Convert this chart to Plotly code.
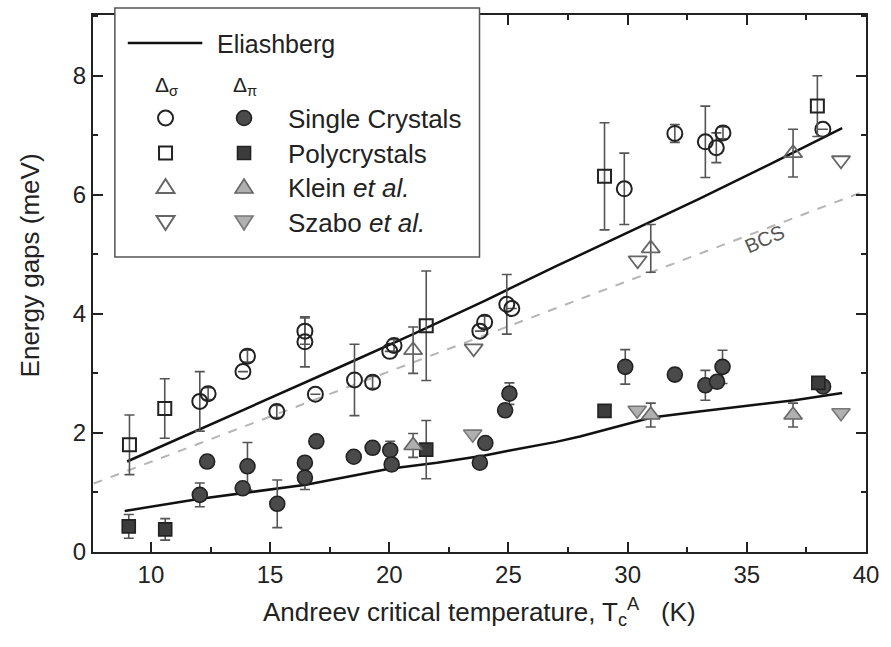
import plotly.graph_objects as go

# ---------------- data ----------------
# Single crystals, sigma gap (open circles)
sc_sig_T = [12.05, 12.4, 13.86, 14.05, 15.28, 16.46, 16.46, 16.9, 18.54, 19.3, 20.02, 20.2,
            23.8, 24.0, 24.93, 25.14, 29.86, 31.98, 33.26, 33.72, 34.0, 38.19]
sc_sig_D = [2.53, 2.66, 3.03, 3.29, 2.36, 3.71, 3.53, 2.65, 2.89, 2.85, 3.37, 3.47,
            3.71, 3.86, 4.16, 4.09, 6.10, 7.03, 6.89, 6.79, 7.04, 7.10]
sc_sig_E = [0.5, 0.1, None, 0.1, 0.1, 0.22, 0.42, None, 0.6, 0.1, None, 0.1,
            None, 0.1, 0.5, None, 0.6, 0.15, 0.6, 0.25, 0.1, None]

# Single crystals, pi gap (filled circles)
sc_pi_T = [12.05, 12.36, 13.85, 14.05, 15.3, 16.46, 16.46, 16.94, 18.51, 19.3, 20.04, 20.1,
           23.8, 24.03, 24.86, 25.04, 29.9, 31.98, 33.26, 33.75, 33.98, 38.2]
sc_pi_D = [0.96, 1.52, 1.07, 1.44, 0.81, 1.50, 1.25, 1.86, 1.60, 1.75, 1.71, 1.47,
           1.50, 1.83, 2.38, 2.66, 3.11, 2.98, 2.80, 2.86, 3.11, 2.78]
sc_pi_E = [0.2, 0.1, None, 0.4, 0.4, 0.1, 0.2, None, None, 0.1, 0.15, 0.1,
           None, None, 0.1, 0.18, 0.29, 0.1, 0.25, 0.1, 0.28, 0.1]

# Polycrystals
poly_sig_T = [9.1, 10.58, 21.55, 29.03, 37.96]
poly_sig_D = [1.80, 2.41, 3.80, 6.31, 7.49]
poly_sig_E = [0.5, 0.5, 0.92, 0.9, 0.51]
poly_pi_T = [9.07, 10.6, 21.55, 29.03, 38.0]
poly_pi_D = [0.43, 0.38, 1.72, 2.37, 2.84]
poly_pi_E = [0.2, 0.18, 0.49, None, 0.1]

# Klein et al.
klein_sig_T = [21.0, 30.97, 36.94]
klein_sig_D = [3.39, 5.10, 6.70]
klein_sig_E = [0.39, 0.40, 0.40]
klein_pi_T = [21.0, 30.97, 36.94]
klein_pi_D = [1.79, 2.30, 2.30]
klein_pi_E = [0.2, 0.2, 0.2]

# Szabo et al.
szabo_sig_T = [23.54, 30.42, 38.95]
szabo_sig_D = [3.42, 4.90, 6.58]
szabo_pi_T = [23.5, 30.4, 38.95]
szabo_pi_D = [1.98, 2.38, 2.34]

# Eliashberg curves
eli_hi_T = [9, 12, 15, 18, 21, 24, 27, 30, 33, 36, 39]
eli_hi_D = [1.52, 2.05, 2.58, 3.12, 3.66, 4.22, 4.80, 5.36, 5.93, 6.52, 7.12]
eli_lo_T = [8.9, 12, 16.5, 20, 22, 24, 25, 27, 28, 30, 31, 33, 35, 37, 39]
eli_lo_D = [0.69, 0.89, 1.13, 1.40, 1.50, 1.62, 1.70, 1.85, 1.94, 2.15, 2.26, 2.36, 2.45, 2.55, 2.67]

# BCS line
bcs_T = [7.6, 40]
bcs_D = [1.15, 6.07]

# ---------------- figure ----------------
W, H = 891, 647
L, R, T, B = 93, 20, 15, 95
PW, PH = W - L - R, H - T - B


def px(x):
    return (x - L) / PW


def py(y):
    return (H - B - y) / PH


FONT = "Liberation Sans, Arial, sans-serif"
ERR = "#555555"

fig = go.Figure()

fig.add_trace(go.Scatter(x=bcs_T, y=bcs_D, mode="lines",
                         line=dict(color="#b5b5b5", width=2, dash="dash"), showlegend=False))
fig.add_trace(go.Scatter(x=eli_hi_T, y=eli_hi_D, mode="lines",
                         line=dict(color="#111111", width=2.5), showlegend=False))
fig.add_trace(go.Scatter(x=eli_lo_T, y=eli_lo_D, mode="lines",
                         line=dict(color="#111111", width=2.5), showlegend=False))


def err(arr):
    return dict(type="data", array=arr, color=ERR, thickness=1.6, width=5)


def pts(x, y, e, symbol, size, fill, line, lw=1.6):
    kw = dict(x=x, y=y, mode="markers", showlegend=False,
              marker=dict(symbol=symbol, size=size, color=fill,
                          line=dict(color=line, width=lw)))
    if e is not None:
        kw["error_y"] = err(e)
    fig.add_trace(go.Scatter(**kw))


# sigma (open)
pts(sc_sig_T, sc_sig_D, sc_sig_E, "circle-open", 15, "#222222", "#222222", 2)
pts(poly_sig_T, poly_sig_D, poly_sig_E, "square-open", 13, "#222222", "#222222", 2)
pts(klein_sig_T, klein_sig_D, klein_sig_E, "triangle-up-open", 16, "#666666", "#666666", 1.8)
pts(szabo_sig_T, szabo_sig_D, None, "triangle-down-open", 16, "#666666", "#666666", 1.8)
# pi (filled)
pts(sc_pi_T, sc_pi_D, sc_pi_E, "circle", 15, "#4a4a4a", "#222222")
pts(poly_pi_T, poly_pi_D, poly_pi_E, "square", 13, "#3c3c3c", "#222222")
pts(klein_pi_T, klein_pi_D, klein_pi_E, "triangle-up", 16, "#b0b0b0", "#666666")
pts(szabo_pi_T, szabo_pi_D, None, "triangle-down", 16, "#b0b0b0", "#777777")

axis_common = dict(showline=True, linecolor="#222222", linewidth=2, mirror="allticks",
                   ticks="inside", ticklen=10, tickwidth=2, tickcolor="#222222",
                   showgrid=False, zeroline=False,
                   tickfont=dict(family=FONT, size=24, color="#222222"))

fig.update_layout(
    width=W, height=H,
    margin=dict(l=L, r=R, t=T, b=B),
    paper_bgcolor="white", plot_bgcolor="white",
    showlegend=False,
    xaxis=dict(range=[7.57, 40], tickvals=[10, 15, 20, 25, 30, 35, 40],
               minor=dict(dtick=2.5, tick0=7.5, ticks="inside", ticklen=5, tickwidth=2,
                          tickcolor="#222222"),
               **axis_common),
    yaxis=dict(range=[0, 9.02], tickvals=[0, 2, 4, 6, 8],
               minor=dict(dtick=1, ticks="inside", ticklen=5, tickwidth=2, tickcolor="#222222"),
               **axis_common),
)

shapes = []
ann = []

# legend box
shapes.append(dict(type="rect", xref="paper", yref="paper", x0=px(115), x1=px(482),
                   y0=py(257), y1=py(8), fillcolor="white",
                   line=dict(color="#555555", width=1.5), layer="above"))
shapes.append(dict(type="line", xref="paper", yref="paper", x0=px(128), x1=px(203),
                   y0=py(43), y1=py(43), line=dict(color="#111111", width=2.5), layer="above"))


def glyph(cx, cy, kind, fill, line, lw=1.6):
    base = dict(xref="paper", yref="paper", xsizemode="pixel", ysizemode="pixel",
                xanchor=px(cx), yanchor=py(cy), fillcolor=fill,
                line=dict(color=line, width=lw), layer="above")
    if kind == "circle":
        base.update(type="circle", x0=-7.5, x1=7.5, y0=-7.5, y1=7.5)
    elif kind == "square":
        base.update(type="rect", x0=-6.5, x1=6.5, y0=-6.5, y1=6.5)
    elif kind == "up":
        base.update(type="path", path="M -9,-6 L 9,-6 L 0,8 Z")
    else:
        base.update(type="path", path="M -9,6 L 9,6 L 0,-8 Z")
    shapes.append(base)


rows = [(118, "circle", "#4a4a4a", "#222222", "#222222", "Single Crystals"),
        (153, "square", "#3c3c3c", "#222222", "#222222", "Polycrystals"),
        (187, "up", "#b0b0b0", "#666666", "#666666", "Klein <i>et al.</i>"),
        (222, "down", "#b0b0b0", "#777777", "#666666", "Szabo <i>et al.</i>")]
for cy, kind, fill, fline, oline, label in rows:
    glyph(166, cy, kind, "rgba(255,255,255,0)", oline, 2)
    glyph(245, cy, kind, fill, fline)
    ann.append(dict(x=px(287), y=py(cy + 1), xref="paper", yref="paper", text=label,
                    showarrow=False, xanchor="left", yanchor="middle",
                    font=dict(family=FONT, size=26, color="#222222")))

ann.append(dict(x=px(216), y=py(44), xref="paper", yref="paper", text="Eliashberg",
                showarrow=False, xanchor="left", yanchor="middle",
                font=dict(family=FONT, size=25, color="#222222")))
ann.append(dict(x=px(153), y=py(86), xref="paper", yref="paper",
                text="Δ<sub>σ</sub>", showarrow=False, xanchor="left", yanchor="middle",
                font=dict(family=FONT, size=21, color="#222222")))
ann.append(dict(x=px(232), y=py(86), xref="paper", yref="paper",
                text="Δ<sub>π</sub>", showarrow=False, xanchor="left", yanchor="middle",
                font=dict(family=FONT, size=21, color="#222222")))

# BCS label
ann.append(dict(x=px(795), y=py(239), xref="paper", yref="paper", text="BCS",
                showarrow=False, textangle=-24,
                font=dict(family=FONT, size=20, color="#555555")))

# axis titles
ann.append(dict(x=px(482), y=py(612), xref="paper", yref="paper",
                text="Andreev critical temperature, T<sub>c</sub><sup>A</sup>   (K)",
                showarrow=False, xanchor="center", yanchor="middle",
                font=dict(family=FONT, size=26, color="#222222")))
ann.append(dict(x=px(30), y=py(265), xref="paper", yref="paper",
                text="Energy gaps (meV)", showarrow=False, textangle=-90,
                xanchor="center", yanchor="middle",
                font=dict(family=FONT, size=26, color="#222222")))

fig.update_layout(shapes=shapes, annotations=ann)

fig.write_html("out.html")
